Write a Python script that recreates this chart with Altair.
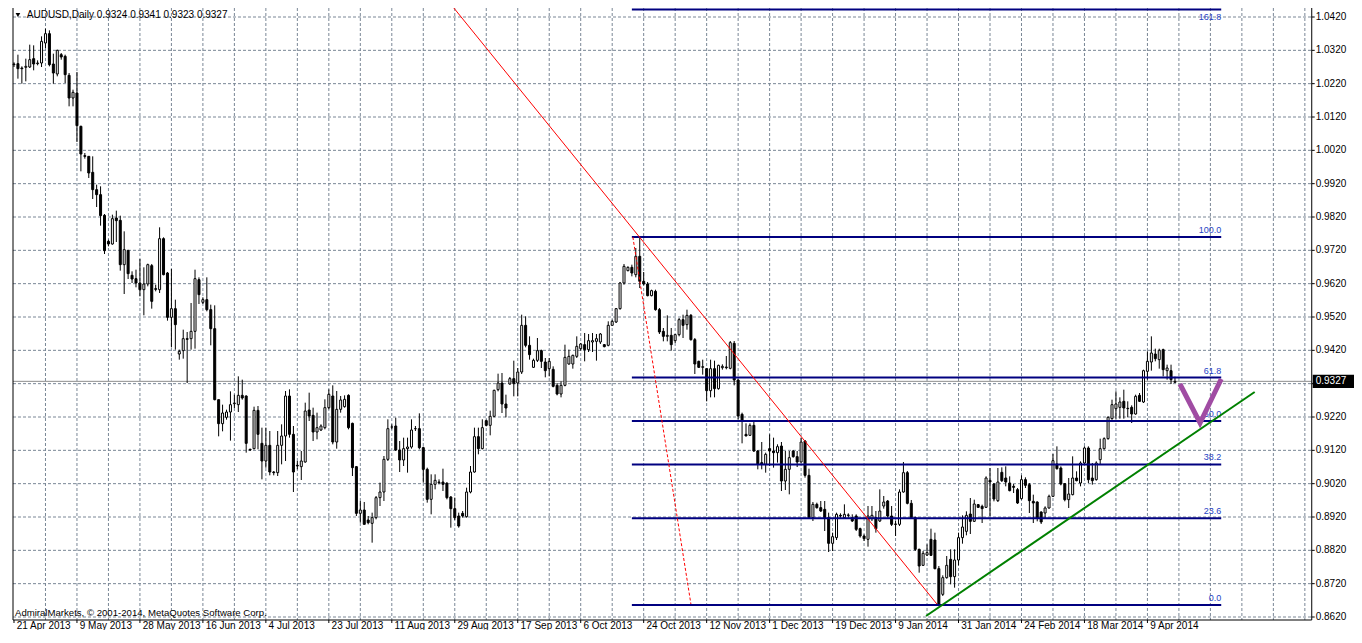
import altair as alt
import pandas as pd

# ---------------- data (AUDUSD daily, one bar per trading day incl. Sunday bars) -------------
opens = [
1.0279,1.0280,1.0267,1.0269,1.0270,1.0295,1.0280,1.0282,1.0342,1.0370,
1.0279,1.0249,1.0307,1.0302,1.0245,1.0177,1.0192,1.0092,1.0004,1.0002,
0.9954,0.9902,0.9887,0.9825,0.9747,0.9739,0.9817,0.9810,0.9677,0.9720,
0.9645,0.9635,0.9622,0.9602,0.9619,0.9674,0.9605,0.9602,0.9755,0.9652,
0.9519,0.9545,0.9409,0.9419,0.9455,0.9455,0.9477,0.9632,0.9564,0.9572,
0.9542,0.9485,0.9272,0.9200,0.9219,0.9235,0.9260,0.9257,0.9285,0.9283,
0.9123,0.9125,0.9240,0.9141,0.9088,0.9135,0.9055,0.9053,0.9135,0.9163,
0.9283,0.9168,0.9075,0.9071,0.9085,0.9241,0.9225,0.9175,0.9181,0.9188,
0.9248,0.9283,0.9145,0.9243,0.9251,0.9285,0.9201,0.9071,0.8931,0.8941,
0.8911,0.8901,0.8918,0.8978,0.8995,0.9093,0.9190,0.9193,0.9121,0.9091,
0.9125,0.9130,0.9185,0.9185,0.9128,0.9063,0.8973,0.9018,0.9025,0.9025,
0.9021,0.8980,0.8945,0.8923,0.8931,0.8921,0.8995,0.9055,0.9161,0.9125,
0.9209,0.9195,0.9222,0.9302,0.9322,0.9259,0.9319,0.9335,0.9322,0.9355,
0.9495,0.9435,0.9369,0.9390,0.9419,0.9385,0.9365,0.9363,0.9315,0.9289,
0.9315,0.9379,0.9379,0.9402,0.9425,0.9437,0.9422,0.9445,0.9447,0.9445,
0.9437,0.9435,0.9495,0.9505,0.9545,0.9622,0.9659,0.9669,0.9647,0.9702,
0.9627,0.9619,0.9584,0.9597,0.9542,0.9477,0.9462,0.9465,0.9449,0.9467,
0.9512,0.9497,0.9525,0.9452,0.9387,0.9369,0.9365,0.9299,0.9365,0.9305,
0.9368,0.9370,0.9366,0.9441,0.9331,0.9228,0.9168,0.9165,0.9195,0.9118,
0.9083,0.9078,0.9125,0.9118,0.9113,0.9133,0.9028,0.9063,0.9118,0.9101,
0.9085,0.9148,0.9045,0.8918,0.8958,0.8948,0.8943,0.8918,0.8841,0.8858,
0.8925,0.8918,0.8926,0.8918,0.8923,0.8885,0.8863,0.8853,0.8915,0.8918,
0.8908,0.8953,0.8968,0.8923,0.8899,0.8898,0.8995,0.9053,0.8961,0.8918,
0.8823,0.8775,0.8806,0.8853,0.8851,0.8765,0.8688,0.8738,0.8793,0.8741,
0.8791,0.8858,0.8877,0.8929,0.8907,0.8957,0.8952,0.8949,0.9030,0.9019,
0.8969,0.9054,0.9037,0.9022,0.9012,0.9002,0.8975,0.9032,0.9017,0.8967,
0.8965,0.8935,0.8932,0.8947,0.8982,0.9079,0.9067,0.9020,0.8972,0.8987,
0.9037,0.9022,0.9082,0.9127,0.9037,0.9032,0.9092,0.9125,0.9155,0.9215,
0.9245,0.9249,0.9267,0.9246,0.9249,0.9229,0.9285,0.9265,0.9357,0.9385,
0.9409,0.9392,0.9422,0.9359,0.9359,0.9324]

highs = [
1.0284,1.0307,1.0272,1.0295,1.0337,1.0335,1.0290,1.0362,1.0385,1.0380,
1.0310,1.0322,1.0312,1.0307,1.0252,1.0202,1.0255,1.0094,1.0012,1.0002,
1.0002,0.9917,0.9912,0.9829,0.9752,0.9827,0.9839,0.9824,0.9777,0.9720,
0.9657,0.9662,0.9694,0.9669,0.9680,0.9679,0.9617,0.9789,0.9759,0.9655,
0.9664,0.9572,0.9422,0.9482,0.9475,0.9562,0.9662,0.9639,0.9579,0.9639,
0.9557,0.9555,0.9272,0.9257,0.9242,0.9297,0.9287,0.9342,0.9332,0.9285,
0.9125,0.9251,0.9253,0.9188,0.9188,0.9178,0.9058,0.9178,0.9198,0.9298,
0.9303,0.9193,0.9088,0.9118,0.9263,0.9293,0.9248,0.9233,0.9198,0.9273,
0.9303,0.9315,0.9298,0.9283,0.9285,0.9288,0.9203,0.9073,0.8968,0.8965,
0.8923,0.8933,0.8983,0.9023,0.9103,0.9213,0.9198,0.9218,0.9148,0.9158,
0.9158,0.9213,0.9193,0.9231,0.9131,0.9068,0.9048,0.9048,0.9033,0.9065,
0.9025,0.8983,0.8978,0.8933,0.8938,0.9008,0.9073,0.9188,0.9188,0.9213,
0.9212,0.9239,0.9302,0.9350,0.9352,0.9287,0.9340,0.9389,0.9367,0.9527,
0.9522,0.9462,0.9395,0.9457,0.9422,0.9397,0.9397,0.9372,0.9322,0.9327,
0.9437,0.9422,0.9407,0.9462,0.9442,0.9472,0.9469,0.9472,0.9469,0.9472,
0.9439,0.9507,0.9512,0.9547,0.9625,0.9679,0.9672,0.9677,0.9727,0.9762,
0.9655,0.9625,0.9602,0.9602,0.9547,0.9487,0.9525,0.9487,0.9469,0.9517,
0.9527,0.9542,0.9529,0.9457,0.9389,0.9392,0.9367,0.9392,0.9389,0.9377,
0.9378,0.9403,0.9448,0.9448,0.9333,0.9233,0.9201,0.9201,0.9208,0.9121,
0.9145,0.9113,0.9168,0.9158,0.9138,0.9145,0.9118,0.9118,0.9121,0.9118,
0.9158,0.9151,0.9065,0.8965,0.8963,0.8968,0.8968,0.8933,0.8873,0.8933,
0.8931,0.8958,0.8931,0.8928,0.8928,0.8888,0.8868,0.8953,0.8953,0.8938,
0.9003,0.8983,0.8971,0.8953,0.8908,0.9003,0.9085,0.9058,0.8971,0.8921,
0.8825,0.8818,0.8838,0.8885,0.8873,0.8773,0.8745,0.8803,0.8823,0.8823,
0.8873,0.8925,0.8937,0.8977,0.8972,0.8959,0.8957,0.9042,0.9067,0.9022,
0.9067,0.9069,0.9072,0.9042,0.9019,0.9007,0.9045,0.9039,0.9022,0.8987,
0.8967,0.8937,0.8952,0.8987,0.9109,0.9132,0.9072,0.9022,0.9037,0.9102,
0.9057,0.9087,0.9132,0.9132,0.9082,0.9087,0.9155,0.9159,0.9222,0.9272,
0.9297,0.9279,0.9302,0.9267,0.9255,0.9287,0.9292,0.9362,0.9417,0.9462,
0.9425,0.9425,0.9425,0.9377,0.9377,0.9341]

lows = [
1.0270,1.0235,1.0220,1.0227,1.0267,1.0260,1.0275,1.0270,1.0327,1.0272,
1.0220,1.0242,1.0292,1.0222,1.0152,1.0152,1.0045,0.9957,0.9995,0.9937,
0.9874,0.9850,0.9794,0.9709,0.9732,0.9737,0.9745,0.9659,0.9589,0.9634,
0.9622,0.9609,0.9582,0.9525,0.9612,0.9545,0.9597,0.9592,0.9645,0.9509,
0.9429,0.9422,0.9392,0.9395,0.9322,0.9422,0.9425,0.9559,0.9559,0.9537,
0.9435,0.9270,0.9162,0.9177,0.9212,0.9149,0.9247,0.9235,0.9272,0.9113,
0.9118,0.9123,0.9123,0.9033,0.9068,0.9045,0.9045,0.9043,0.9078,0.9088,
0.9158,0.8995,0.9063,0.9031,0.9083,0.9208,0.9148,0.9153,0.9178,0.9183,
0.9243,0.9138,0.9125,0.9233,0.9248,0.9183,0.9043,0.8923,0.8903,0.8898,
0.8898,0.8843,0.8913,0.8953,0.8968,0.9088,0.9183,0.9118,0.9055,0.9073,
0.9053,0.9125,0.9178,0.9123,0.9023,0.8963,0.8928,0.9003,0.9018,0.8998,
0.8973,0.8888,0.8911,0.8888,0.8918,0.8918,0.8991,0.9053,0.9108,0.9123,
0.9192,0.9165,0.9219,0.9297,0.9232,0.9219,0.9317,0.9282,0.9282,0.9349,
0.9429,0.9392,0.9367,0.9385,0.9367,0.9339,0.9342,0.9309,0.9285,0.9279,
0.9312,0.9377,0.9365,0.9397,0.9419,0.9387,0.9415,0.9415,0.9389,0.9439,
0.9429,0.9432,0.9495,0.9502,0.9542,0.9617,0.9657,0.9642,0.9639,0.9607,
0.9615,0.9582,0.9582,0.9539,0.9469,0.9447,0.9447,0.9419,0.9442,0.9462,
0.9457,0.9482,0.9449,0.9349,0.9367,0.9347,0.9267,0.9279,0.9279,0.9302,
0.9362,0.9363,0.9363,0.9315,0.9213,0.9141,0.9163,0.9163,0.9115,0.9063,
0.9063,0.9053,0.9073,0.9068,0.9083,0.8998,0.9001,0.8988,0.9098,0.9070,
0.9083,0.9038,0.8915,0.8908,0.8945,0.8935,0.8878,0.8815,0.8818,0.8851,
0.8918,0.8915,0.8918,0.8905,0.8878,0.8858,0.8848,0.8831,0.8908,0.8873,
0.8905,0.8945,0.8918,0.8893,0.8863,0.8893,0.8993,0.8958,0.8915,0.8818,
0.8753,0.8773,0.8803,0.8803,0.8763,0.8655,0.8683,0.8735,0.8718,0.8708,
0.8775,0.8840,0.8865,0.8869,0.8905,0.8947,0.8902,0.8947,0.8922,0.8967,
0.8965,0.9025,0.9012,0.8997,0.8992,0.8959,0.8972,0.9007,0.8932,0.8902,
0.8907,0.8899,0.8917,0.8945,0.8980,0.9062,0.9015,0.8967,0.8947,0.8985,
0.9027,0.9012,0.9079,0.9022,0.9017,0.9029,0.9077,0.9122,0.9152,0.9212,
0.9215,0.9215,0.9215,0.9219,0.9202,0.9227,0.9265,0.9262,0.9332,0.9359,
0.9387,0.9365,0.9342,0.9332,0.9319,0.9323]

closes = [
1.0277,1.0265,1.0265,1.0272,1.0292,1.0279,1.0282,1.0347,1.0370,1.0277,
1.0252,1.0320,1.0300,1.0247,1.0177,1.0194,1.0094,1.0009,1.0002,0.9952,
0.9902,0.9887,0.9824,0.9719,0.9739,0.9815,0.9809,0.9677,0.9722,0.9650,
0.9634,0.9622,0.9602,0.9619,0.9677,0.9567,0.9603,0.9755,0.9647,0.9519,
0.9545,0.9497,0.9417,0.9455,0.9453,0.9477,0.9635,0.9587,0.9572,0.9542,
0.9485,0.9272,0.9200,0.9232,0.9235,0.9257,0.9262,0.9285,0.9277,0.9141,
0.9121,0.9240,0.9168,0.9088,0.9135,0.9055,0.9053,0.9135,0.9163,0.9283,
0.9168,0.9055,0.9073,0.9088,0.9238,0.9223,0.9175,0.9188,0.9193,0.9248,
0.9288,0.9145,0.9243,0.9271,0.9273,0.9188,0.9068,0.8931,0.8941,0.8898,
0.8903,0.8918,0.8978,0.8995,0.9093,0.9185,0.9190,0.9121,0.9091,0.9125,
0.9130,0.9181,0.9185,0.9128,0.9063,0.8973,0.9018,0.9030,0.9023,0.9018,
0.8978,0.8945,0.8918,0.8893,0.8923,0.8995,0.9055,0.9161,0.9125,0.9188,
0.9195,0.9222,0.9300,0.9322,0.9259,0.9247,0.9335,0.9320,0.9355,0.9495,
0.9435,0.9407,0.9390,0.9419,0.9387,0.9359,0.9387,0.9312,0.9289,0.9315,
0.9399,0.9402,0.9405,0.9432,0.9439,0.9422,0.9449,0.9449,0.9455,0.9469,
0.9431,0.9495,0.9507,0.9545,0.9622,0.9672,0.9669,0.9652,0.9702,0.9627,
0.9619,0.9584,0.9599,0.9542,0.9475,0.9462,0.9465,0.9437,0.9467,0.9512,
0.9495,0.9525,0.9452,0.9379,0.9369,0.9371,0.9299,0.9365,0.9305,0.9375,
0.9372,0.9368,0.9443,0.9331,0.9223,0.9208,0.9163,0.9195,0.9118,0.9078,
0.9078,0.9108,0.9118,0.9113,0.9131,0.9028,0.9063,0.9098,0.9101,0.9085,
0.9145,0.9045,0.8918,0.8958,0.8948,0.8938,0.8918,0.8841,0.8861,0.8928,
0.8923,0.8928,0.8925,0.8908,0.8883,0.8863,0.8855,0.8923,0.8925,0.8885,
0.8938,0.8965,0.8923,0.8898,0.8898,0.8995,0.9053,0.8961,0.8918,0.8823,
0.8773,0.8811,0.8813,0.8805,0.8765,0.8658,0.8738,0.8775,0.8741,0.8791,
0.8858,0.8890,0.8925,0.8907,0.8959,0.8949,0.8945,0.9037,0.9025,0.8974,
0.9025,0.9029,0.9025,0.8999,0.9009,0.8962,0.9032,0.9015,0.8969,0.8962,
0.8917,0.8905,0.8947,0.8982,0.9089,0.9065,0.9019,0.8972,0.8989,0.9037,
0.9029,0.9082,0.9127,0.9032,0.9029,0.9082,0.9125,0.9155,0.9219,0.9257,
0.9259,0.9265,0.9247,0.9245,0.9229,0.9282,0.9267,0.9359,0.9387,0.9412,
0.9395,0.9420,0.9362,0.9367,0.9332,0.9327]

price_ticks = [0.8620, 0.8720, 0.8820, 0.8920, 0.9020, 0.9120, 0.9220, 0.9320, 0.9420,
               0.9520, 0.9620, 0.9720, 0.9820, 0.9920, 1.0020, 1.0120, 1.0220, 1.0320, 1.0420]
date_labels = ["21 Apr 2013", "9 May 2013", "28 May 2013", "16 Jun 2013", "4 Jul 2013",
               "23 Jul 2013", "11 Aug 2013", "29 Aug 2013", "17 Sep 2013", "6 Oct 2013",
               "24 Oct 2013", "12 Nov 2013", "1 Dec 2013", "19 Dec 2013", "9 Jan 2014",
               "31 Jan 2014", "24 Feb 2014", "18 Mar 2014", "9 Apr 2014"]
date_label_bars = [0, 16, 32, 48, 64, 80, 96, 112, 128, 144, 160, 176, 192, 208, 224,
                   240, 256, 272, 288]
grid_bars = [8 * k for k in range(1, 42)]

fib_levels = [0.0, 23.6, 38.2, 50.0, 61.8, 100.0, 161.8]
fib_low, fib_high = 0.8656, 0.9760
last_price = 0.9327
title_text = "AUDUSD,Daily  0.9324 0.9341 0.9323 0.9327"
copyright_text = "AdmiralMarkets, \u00a9 2001-2014, MetaQuotes Software Corp."

# ---------------- geometry helpers -------------------------------------------------------------
W, H = 1346, 622
PX_PER_BAR = 3.965
X0 = -1.0 / PX_PER_BAR
X1 = X0 + W / PX_PER_BAR


def bx(rx):
    """reference-image x pixel -> bar index"""
    return (rx - 3.0) / 4.0


def py(ry):
    """reference-image y pixel -> price"""
    return 1.0480 - 0.0003 * ry


Y1 = py(11)
Y0 = py(633)

XS = alt.Scale(domain=[X0, X1], nice=False, zero=False)
YS = alt.Scale(domain=[Y0, Y1], nice=False, zero=False)
FONT = "Liberation Sans"
GRID = "#7a8796"


def X(f):
    return alt.X(f, type="quantitative", scale=XS, axis=None)


def Y(f):
    return alt.Y(f, type="quantitative", scale=YS, axis=None)


border_p = py(623)
axis_x = bx(1322)
left_x = bx(2)

# ---------------- layers -----------------------------------------------------------------------
vgrid = alt.Chart(pd.DataFrame({"i": grid_bars, "y1": Y1, "y2": border_p})).mark_rule(
    color=GRID, strokeWidth=1, strokeDash=[3, 2]
).encode(x=X("i"), y=Y("y1"), y2="y2:Q")

hgrid = alt.Chart(pd.DataFrame({"p": price_ticks, "x1": left_x, "x2": axis_x})).mark_rule(
    color=GRID, strokeWidth=1, strokeDash=[3, 2]
).encode(y=Y("p"), x=X("x1"), x2="x2:Q")

pline = alt.Chart(pd.DataFrame({"p": [last_price], "x1": [left_x], "x2": [axis_x]})).mark_rule(
    color="#8c8c8c", strokeWidth=1
).encode(y=Y("p"), x=X("x1"), x2="x2:Q")

n = min(len(opens), len(highs), len(lows), len(closes))
candles = pd.DataFrame({
    "i": list(range(n)), "o": opens[:n], "h": highs[:n], "l": lows[:n], "c": closes[:n]
})
candles["fill"] = ["#ffffff" if c >= o else "#000000" for o, c in zip(candles["o"], candles["c"])]

wicks = alt.Chart(candles).mark_rule(color="black", strokeWidth=1).encode(
    x=X("i"), y=Y("l"), y2="h:Q"
)
bodies = alt.Chart(candles).mark_bar(size=2, stroke="black", strokeWidth=1).encode(
    x=X("i"), y=Y("o"), y2="c:Q", fill=alt.Fill("fill:N", scale=None)
)

fib = pd.DataFrame({"lvl": fib_levels})
fib["p"] = fib_low + fib["lvl"] / 100.0 * (fib_high - fib_low)
fib["x1"] = bx(631)
fib["x2"] = bx(1230)
fib["lbl"] = [f"{v:.1f}" for v in fib_levels]
fib_lines = alt.Chart(fib).mark_rule(color="#000080", strokeWidth=2).encode(
    y=Y("p"), x=X("x1"), x2="x2:Q"
)
fib_above = fib[fib["lvl"] < 150]
fib_below = fib[fib["lvl"] >= 150]
fib_text = alt.Chart(fib_above).mark_text(
    align="right", baseline="bottom", dy=-2, fontSize=9, font=FONT, color="#2743c4"
).encode(x=X("x2"), y=Y("p"), text="lbl:N")
fib_text_top = alt.Chart(fib_below).mark_text(
    align="right", baseline="top", dy=3, fontSize=9, font=FONT, color="#2743c4"
).encode(x=X("x2"), y=Y("p"), text="lbl:N")

red = alt.Chart(pd.DataFrame({"x": [bx(441), bx(941)], "y": [py(0), py(607)], "o": [0, 1]})).mark_line(
    color="#ff0000", strokeWidth=1, clip=True
).encode(x=X("x"), y=Y("y"), order="o:Q")

red_dash = alt.Chart(pd.DataFrame({"x": [bx(632), bx(691)], "y": [py(240), py(607)], "o": [0, 1]})).mark_line(
    color="#ff0000", strokeWidth=1, strokeDash=[3, 2], clip=True
).encode(x=X("x"), y=Y("y"), order="o:Q")

green = alt.Chart(pd.DataFrame({"x": [bx(930), bx(1264)], "y": [py(619), py(395)], "o": [0, 1]})).mark_line(
    color="#008000", strokeWidth=2, clip=True
).encode(x=X("x"), y=Y("y"), order="o:Q")

purple = alt.Chart(pd.DataFrame({
    "x": [bx(1188), bx(1208.5), bx(1230)], "y": [py(387), py(426), py(382)], "o": [0, 1, 2]
})).mark_line(color="#a04ca3", strokeWidth=5, clip=True).encode(
    x=X("x"), y=Y("y"), order="o:Q"
)

borders = alt.Chart(pd.DataFrame({
    "x1": [axis_x, left_x, left_x], "x2": [axis_x, left_x, axis_x],
    "y1": [Y1, Y1, border_p], "y2": [border_p, border_p, border_p]
})).mark_rule(color="black", strokeWidth=1).encode(
    x=X("x1"), x2="x2:Q", y=Y("y1"), y2="y2:Q"
)

rticks = alt.Chart(pd.DataFrame({"p": price_ticks, "x1": axis_x, "x2": bx(1325)})).mark_rule(
    color="black", strokeWidth=1
).encode(y=Y("p"), x=X("x1"), x2="x2:Q")

plabels = pd.DataFrame({"p": [p for p in price_ticks if abs(p - last_price) > 0.002]})
plabels["t"] = [f"{p:.4f}" for p in plabels["p"]]
plabels["x"] = bx(1326)
ptext = alt.Chart(plabels).mark_text(
    align="left", baseline="middle", fontSize=10, font=FONT, color="black"
).encode(x=X("x"), y=Y("p"), text="t:N")

pbox = alt.Chart(pd.DataFrame({"x1": [bx(1323)], "x2": [X1 + 5], "y1": [last_price + 0.0020],
                               "y2": [last_price - 0.0020]})).mark_rect(color="black").encode(
    x=X("x1"), x2="x2:Q", y=Y("y1"), y2="y2:Q"
)
pbox_text = alt.Chart(pd.DataFrame({"x": [bx(1326)], "p": [last_price], "t": [f"{last_price:.4f}"]})).mark_text(
    align="left", baseline="middle", fontSize=10, font=FONT, color="white"
).encode(x=X("x"), y=Y("p"), text="t:N")

dticks = alt.Chart(pd.DataFrame({"i": date_label_bars, "y1": border_p, "y2": py(626)})).mark_rule(
    color="black", strokeWidth=1
).encode(x=X("i"), y=Y("y1"), y2="y2:Q")

dlabels = pd.DataFrame({"i": date_label_bars, "t": date_labels})
dlabels["x"] = dlabels["i"] + 0.7
dlabels["y"] = py(631.5)
dtext = alt.Chart(dlabels).mark_text(
    align="left", baseline="alphabetic", fontSize=10, font=FONT, color="black"
).encode(x=X("x"), y=Y("y"), text="t:N")

title = alt.Chart(pd.DataFrame({"x": [bx(16)], "y": [py(13)], "t": [title_text]})).mark_text(
    align="left", baseline="top", fontSize=10, font=FONT, color="black"
).encode(x=X("x"), y=Y("y"), text="t:N")

tri = alt.Chart(pd.DataFrame({"x": [bx(7)], "y": [py(18)]})).mark_point(
    shape="triangle-down", filled=True, color="black", size=22, opacity=1
).encode(x=X("x"), y=Y("y"))

copy = alt.Chart(pd.DataFrame({"x": [bx(4)], "y": [py(618.5)], "t": [copyright_text]})).mark_text(
    align="left", baseline="alphabetic", fontSize=9.6, font=FONT, color="black"
).encode(x=X("x"), y=Y("y"), text="t:N")

chart = alt.layer(
    vgrid, hgrid, pline, wicks, bodies, fib_lines, fib_text, fib_text_top, red, red_dash, green,
    purple, borders, rticks, ptext, pbox, pbox_text, dticks, dtext, title, tri, copy
).properties(
    width=W, height=H, padding=0, background="white",
    autosize=alt.AutoSizeParams(type="none")
).configure_view(strokeWidth=0)

chart.save("out.html", embed_options={"renderer": "svg", "actions": False})
